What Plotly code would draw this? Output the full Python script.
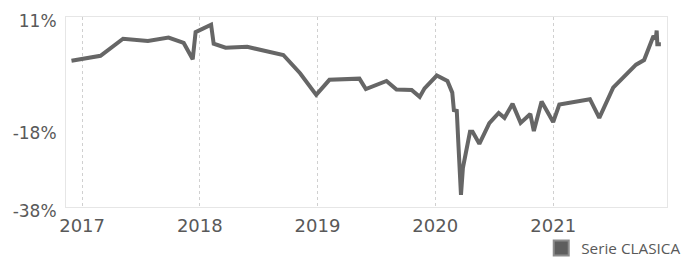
import plotly.graph_objects as go

dates = [
    "2016-11-29", "2017-02-27", "2017-05-08", "2017-07-24", "2017-09-26", "2017-11-12",
    "2017-12-10", "2017-12-19", "2018-02-05", "2018-02-13", "2018-03-22", "2018-05-28",
    "2018-09-17", "2018-11-08", "2018-12-28", "2019-02-07", "2019-05-11", "2019-05-31",
    "2019-08-03", "2019-09-03", "2019-10-20", "2019-11-14", "2019-11-29", "2020-01-06",
    "2020-02-08", "2020-02-23", "2020-02-28", "2020-03-08", "2020-03-13", "2020-03-21",
    "2020-03-27", "2020-04-18", "2020-04-26", "2020-05-17", "2020-06-17", "2020-07-16",
    "2020-08-03", "2020-08-28", "2020-09-22", "2020-10-22", "2020-11-02", "2020-11-26",
    "2021-01-01", "2021-01-20", "2021-04-25", "2021-05-24", "2021-07-06", "2021-09-15",
    "2021-10-10", "2021-11-08", "2021-11-15", "2021-11-18", "2021-11-20", "2021-12-01",
]
values = [
    -0.3, 1.0, 5.4, 4.8, 5.7, 4.3,
    0.1, 7.1, 9.0, 4.1, 3.1, 3.3,
    1.2, -3.5, -9.1, -5.2, -4.9, -7.6,
    -5.5, -7.7, -7.8, -9.6, -7.4, -4.1,
    -5.5, -8.5, -13.0, -13.2, -21.7, -34.9,
    -27.9, -18.6, -18.6, -21.7, -16.4, -13.75,
    -15.0, -11.4, -16.3, -14.0, -18.4, -10.8,
    -16.1, -11.6, -10.2, -15.0, -7.2, -1.3,
    -0.1, 6.1, 5.3, 7.5, 4.0, 4.0,
]
series_name = "Serie CLASICA"
y_ticks = [11, -18, -38]
y_tick_text = ["11%", "-18%", "-38%"]
x_ticks = ["2017-01-01", "2018-01-01", "2019-01-01", "2020-01-01", "2021-01-01"]
x_tick_text = ["2017", "2018", "2019", "2020", "2021"]

fig = go.Figure()
fig.add_trace(go.Scatter(
    x=dates, y=values, mode="lines",
    line=dict(color="#666666", width=4),
    showlegend=False, name=series_name,
))
fig.add_trace(go.Scatter(
    x=[None], y=[None], mode="markers", name=series_name,
    marker=dict(symbol="square", size=15, color="#5e5e5e",
                line=dict(color="#8c8c8c", width=2)),
))

fig.update_layout(
    width=687, height=265,
    margin=dict(l=66, r=20, t=17, b=58, autoexpand=False),
    paper_bgcolor="white", plot_bgcolor="white",
    font=dict(family="DejaVu Sans", color="#595959", size=17),
    xaxis=dict(
        range=["2016-11-12", "2021-12-20"],
        tickvals=x_ticks, ticktext=x_tick_text,
        showgrid=True, gridcolor="#d0d0d0", griddash="dot", gridwidth=1,
        showline=True, linecolor="#e6e6e6", linewidth=1, mirror=True,
        ticks="outside", ticklen=2, tickcolor="rgba(0,0,0,0)",
        tickfont=dict(family="DejaVu Sans", size=18), zeroline=False,
    ),
    yaxis=dict(
        range=[-38, 11], tickvals=y_ticks, ticktext=y_tick_text,
        showgrid=False, zeroline=False,
        showline=True, linecolor="#e6e6e6", linewidth=1, mirror=True,
        ticks="outside", ticklen=5, tickcolor="rgba(0,0,0,0)",
        ticklabelshift=4,
        tickfont=dict(family="DejaVu Sans", size=17),
    ),
    legend=dict(
        x=1.032, xanchor="right", y=-0.303, yanchor="bottom",
        font=dict(family="Open Sans", size=15.3, color="#595959"),
        bgcolor="rgba(0,0,0,0)", borderwidth=0,
    ),
    showlegend=True,
)

fig.write_html(
    "out.html",
    config={"displayModeBar": False},
    post_script="document.body.style.margin='0';document.body.style.overflow='hidden';",
)
